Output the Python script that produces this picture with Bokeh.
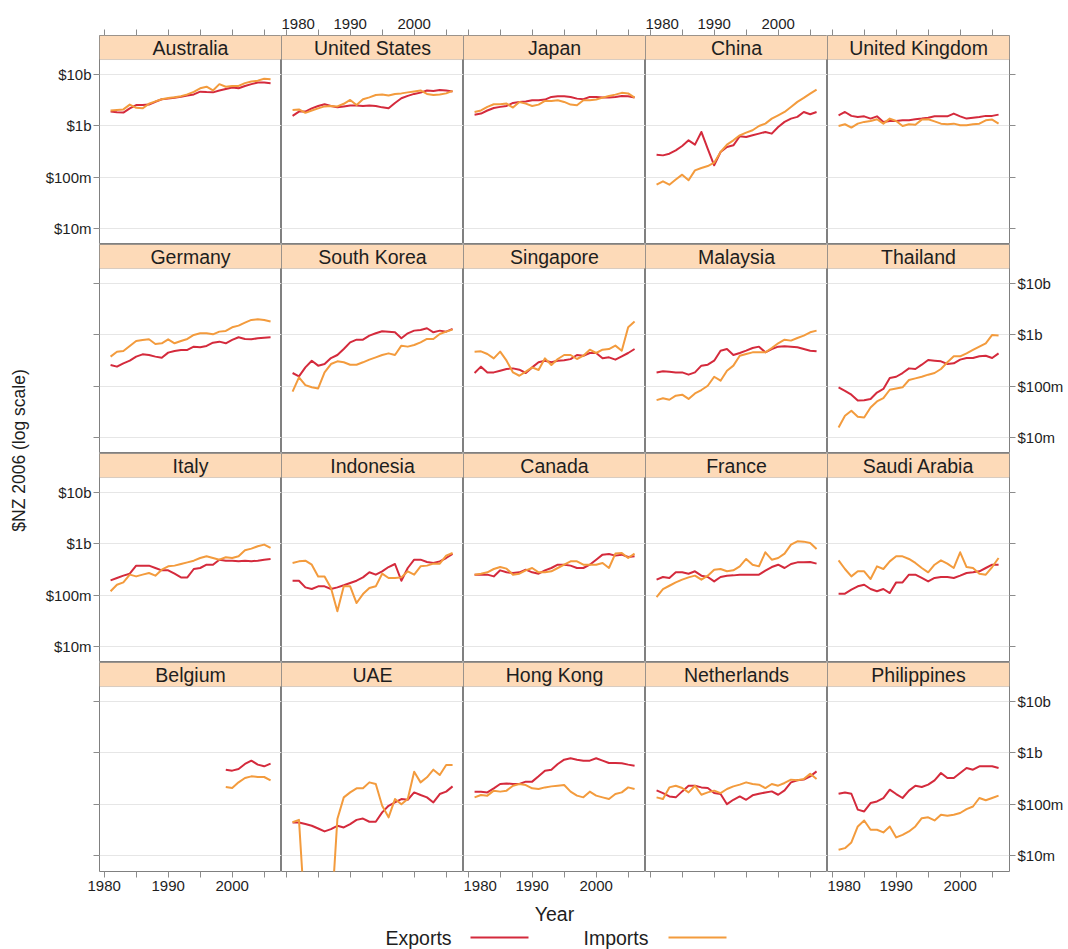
import math
import numpy as np
from bokeh.plotting import figure
from bokeh.layouts import row, column, gridplot
from bokeh.models import (Range1d, FixedTicker, LinearAxis, LogAxis, Grid,
                          BoxAnnotation, Label, CustomJSTickFormatter, ColumnDataSource)
from bokeh.core.properties import value
from bokeh.embed import file_html
from bokeh.resources import INLINE

NA = float("nan")

YEARS = [1981, 1982, 1983, 1984, 1985, 1986, 1987, 1988, 1989, 1990, 1991, 1992, 1993,
         1994, 1995, 1996, 1997, 1998, 1999, 2000, 2001, 2002, 2003, 2004, 2005, 2006]

COUNTRIES = ["Australia", "United States", "Japan", "China", "United Kingdom",
             "Germany", "South Korea", "Singapore", "Malaysia", "Thailand",
             "Italy", "Indonesia", "Canada", "France", "Saudi Arabia",
             "Belgium", "UAE", "Hong Kong", "Netherlands", "Philippines"]

# Values in $NZ millions (2006 dollars)
AUSTRALIA_EXP = [1900, 1850, 1820, 2200, 2550, 2550, 2600, 2950, 3300, 3400, 3550, 3700, 3900, 4100, 4650, 4550, 4500, 4900, 5250, 5600, 5400, 6000, 6500, 7000, 7000, 6800]
AUSTRALIA_IMP = [2000, 2050, 2100, 2600, 2250, 2200, 2700, 3000, 3300, 3500, 3600, 3800, 4100, 4600, 5400, 5800, 4900, 6500, 5800, 6000, 6000, 6800, 7300, 7600, 8300, 8100]
USA_EXP = [1570, 1900, 1900, 2200, 2450, 2650, 2450, 2300, 2400, 2500, 2500, 2450, 2500, 2450, 2300, 2200, 2800, 3450, 3850, 4200, 4450, 4900, 4800, 5000, 4900, 4700]
USA_IMP = [2050, 2100, 1800, 2000, 2200, 2400, 2450, 2400, 2700, 3200, 2550, 3300, 3600, 4000, 4100, 3900, 4200, 4300, 4500, 4700, 4900, 4200, 4000, 4100, 4300, 4800]
JAPAN_EXP = [1660, 1740, 2000, 2240, 2350, 2450, 2800, 2930, 3000, 3160, 3160, 3260, 3670, 3780, 3780, 3670, 3400, 3300, 3670, 3670, 3560, 3560, 3670, 3840, 3780, 3560]
JAPAN_IMP = [1870, 2000, 2350, 2640, 2640, 2720, 2280, 2930, 2720, 2450, 2600, 3070, 3070, 3160, 2930, 2600, 2530, 3160, 3160, 3260, 3560, 3840, 4070, 4400, 4300, 3560]
CHINA_EXP = [277, 268, 289, 336, 407, 526, 433, 764, 360, 172, 312, 390, 420, 630, 611, 658, 709, 764, 709, 957, 1200, 1390, 1500, 1870, 1690, 1870]
CHINA_IMP = [72, 84, 72, 91, 113, 88, 137, 152, 166, 193, 312, 433, 526, 658, 741, 824, 1000, 1110, 1390, 1610, 1870, 2340, 2940, 3510, 4260, 5100]
UK_EXP = [1610, 1870, 1570, 1500, 1540, 1390, 1540, 1200, 1250, 1250, 1290, 1290, 1350, 1390, 1450, 1540, 1540, 1540, 1740, 1540, 1390, 1450, 1500, 1570, 1570, 1660]
UK_IMP = [1000, 1080, 930, 1110, 1200, 1250, 1350, 1110, 1390, 1250, 1000, 1080, 1060, 1330, 1350, 1230, 1110, 1080, 1110, 1030, 1030, 1080, 1110, 1290, 1330, 1110]
GERMANY_EXP = [261, 242, 281, 316, 379, 420, 408, 379, 361, 453, 488, 511, 511, 593, 575, 611, 709, 741, 689, 800, 902, 836, 824, 861, 887, 902]
GERMANY_IMP = [379, 473, 488, 611, 764, 800, 824, 668, 689, 824, 689, 764, 836, 1000, 1077, 1077, 1030, 1161, 1196, 1410, 1520, 1740, 1960, 2020, 1960, 1820]
KOREA_EXP = [182, 157, 234, 316, 253, 272, 356, 408, 533, 719, 811, 811, 971, 1077, 1178, 1160, 1127, 861, 1077, 1214, 1250, 1349, 1127, 1214, 1160, 1309]
KOREA_IMP = [79, 150, 106, 96, 91, 187, 272, 307, 294, 264, 264, 294, 331, 367, 408, 439, 408, 620, 593, 638, 719, 836, 836, 1045, 1161, 1270]
SINGAPORE_EXP = [182, 242, 187, 187, 202, 218, 224, 211, 182, 234, 294, 316, 294, 316, 323, 339, 408, 395, 446, 446, 351, 367, 331, 384, 446, 533]
SINGAPORE_IMP = [473, 481, 427, 351, 473, 316, 187, 161, 193, 234, 208, 351, 261, 341, 408, 408, 341, 395, 518, 446, 518, 533, 620, 495, 1410, 1820]
MALAYSIA_EXP = [187, 196, 192, 187, 187, 169, 187, 253, 264, 316, 495, 533, 408, 446, 495, 558, 593, 459, 533, 593, 601, 593, 575, 533, 495, 481]
MALAYSIA_IMP = [54, 59, 55, 66, 69, 57, 73, 85, 103, 154, 129, 202, 253, 395, 427, 459, 459, 459, 558, 689, 811, 776, 874, 970, 1127, 1214]
THAILAND_EXP = [96, 82, 69, 53, 54, 57, 76, 89, 145, 154, 182, 224, 218, 264, 326, 316, 307, 272, 281, 331, 356, 356, 384, 395, 356, 439]
THAILAND_IMP = [15.9, 26.9, 33.6, 25.6, 24.9, 39, 51, 59, 86, 91, 96, 133, 143, 154, 169, 182, 218, 294, 384, 384, 439, 511, 593, 689, 1000, 971]
ITALY_EXP = [196, 218, 242, 264, 379, 379, 379, 341, 307, 307, 264, 224, 224, 326, 341, 395, 395, 495, 473, 473, 459, 473, 459, 473, 495, 511]
ITALY_IMP = [120, 161, 179, 253, 234, 253, 272, 242, 316, 367, 379, 408, 439, 473, 533, 575, 533, 495, 550, 533, 575, 754, 811, 901, 971, 836]
INDONESIA_EXP = [193, 193, 143, 133, 150, 150, 133, 143, 157, 174, 193, 224, 281, 253, 294, 356, 408, 193, 341, 495, 495, 446, 427, 459, 533, 638]
INDONESIA_IMP = [427, 459, 473, 395, 234, 234, 139, 49, 150, 150, 71, 106, 139, 150, 264, 218, 218, 224, 294, 253, 367, 379, 414, 414, 593, 668]
CANADA_EXP = [253, 253, 253, 234, 307, 281, 272, 281, 316, 281, 264, 307, 341, 395, 395, 379, 341, 341, 395, 495, 620, 638, 593, 620, 558, 575]
CANADA_IMP = [253, 264, 281, 326, 356, 331, 253, 264, 307, 341, 281, 281, 294, 341, 395, 459, 459, 395, 395, 395, 427, 341, 649, 668, 533, 649]
FRANCE_EXP = [202, 228, 218, 281, 281, 264, 294, 242, 228, 187, 228, 242, 245, 253, 253, 253, 253, 303, 356, 395, 341, 408, 439, 439, 446, 414]
FRANCE_IMP = [93, 133, 154, 179, 202, 224, 242, 202, 242, 316, 326, 294, 307, 367, 511, 395, 367, 689, 495, 533, 649, 971, 1127, 1110, 1045, 800]
SAUDI_EXP = [108, 108, 129, 150, 161, 133, 120, 133, 111, 179, 179, 253, 253, 218, 187, 218, 228, 228, 218, 242, 272, 281, 294, 341, 395, 395]
SAUDI_IMP = [481, 326, 234, 294, 294, 208, 367, 326, 459, 575, 575, 511, 427, 341, 281, 395, 481, 414, 341, 689, 356, 341, 264, 253, 356, 533]
BELGIUM_EXP = [NA, NA, NA, NA, NA, NA, NA, NA, NA, NA, NA, NA, NA, NA, NA, NA, NA, NA, 473, 453, 488, 611, 709, 593, 550, 620]
BELGIUM_IMP = [NA, NA, NA, NA, NA, NA, NA, NA, NA, NA, NA, NA, NA, NA, NA, NA, NA, NA, 218, 208, 268, 326, 351, 341, 341, 294]
UAE_EXP = [44.6, 44.6, 41.4, 38.4, 34, 29.8, 33, 38.4, 35.6, 41.4, 50, 53, 46, 46, 70, 94, 109, 127, 123, 171, 152, 137, 109, 159, 177, 224]
UAE_IMP = [45, 50, 0.5, 0.5, 0.5, 0.5, 0.5, 52, 137, 171, 205, 205, 268, 249, 94, 56, 127, 101, 127, 433, 268, 336, 473, 372, 584, 584]
HONGKONG_EXP = [177, 177, 171, 205, 249, 256, 249, 249, 277, 277, 351, 453, 473, 611, 741, 787, 741, 709, 709, 787, 709, 638, 638, 629, 593, 566]
HONGKONG_IMP = [137, 152, 148, 185, 177, 185, 231, 249, 238, 205, 199, 214, 224, 231, 238, 177, 148, 137, 177, 148, 137, 127, 159, 171, 214, 199]
NETHERLANDS_EXP = [187, 166, 143, 137, 179, 231, 231, 214, 208, 166, 159, 101, 123, 143, 123, 150, 161, 171, 179, 154, 187, 268, 294, 303, 351, 439]
NETHERLANDS_IMP = [137, 127, 214, 231, 208, 171, 231, 154, 171, 185, 166, 199, 224, 242, 268, 249, 242, 208, 249, 231, 261, 303, 294, 312, 395, 312]
PHILIPPINES_EXP = [161, 171, 161, 79, 73, 106, 114, 133, 193, 159, 133, 185, 231, 218, 242, 294, 408, 326, 326, 408, 511, 473, 550, 550, 550, 511]
PHILIPPINES_IMP = [13.1, 14.1, 18.2, 37.2, 48.7, 32.1, 32.1, 28.5, 37.2, 22.8, 25.6, 29.8, 37.2, 54, 56, 48.7, 63, 60, 63, 68, 81, 91, 133, 120, 133, 148]

EXPORTS = [AUSTRALIA_EXP, USA_EXP, JAPAN_EXP, CHINA_EXP, UK_EXP,
           GERMANY_EXP, KOREA_EXP, SINGAPORE_EXP, MALAYSIA_EXP, THAILAND_EXP,
           ITALY_EXP, INDONESIA_EXP, CANADA_EXP, FRANCE_EXP, SAUDI_EXP,
           BELGIUM_EXP, UAE_EXP, HONGKONG_EXP, NETHERLANDS_EXP, PHILIPPINES_EXP]
IMPORTS = [AUSTRALIA_IMP, USA_IMP, JAPAN_IMP, CHINA_IMP, UK_IMP,
           GERMANY_IMP, KOREA_IMP, SINGAPORE_IMP, MALAYSIA_IMP, THAILAND_IMP,
           ITALY_IMP, INDONESIA_IMP, CANADA_IMP, FRANCE_IMP, SAUDI_IMP,
           BELGIUM_IMP, UAE_IMP, HONGKONG_IMP, NETHERLANDS_IMP, PHILIPPINES_IMP]

Y_TICKS = [10, 100, 1000, 10000]
Y_TICK_LABELS = ["$10m", "$100m", "$1b", "$10b"]
X_TICKS = [1980, 1990, 2000]
X_MINOR_TICKS = [1985, 1995, 2005]
SERIES_NAMES = ["Exports", "Imports"]

# ---- style / layout ----
FONT = "Liberation Sans"
EXP_COLOR = "#D42A3C"
IMP_COLOR = "#F39B3D"
STRIP_FILL = "#FDDAB8"
BORDER = "#808080"
GRID_COLOR = "#E6E6E6"
TICK_COLOR = "#8C8C8C"
TEXT_COLOR = "#1E1E1E"

FW, FH = 182, 209
L0, R4, T0, B3 = 67, 56, 35, 28
YLAB_W = 32
X0 = 1979.27
X1 = X0 + FW / 6.4
Y0 = 10 ** 0.695
Y1 = 10 ** 4.759
STRIP_BOTTOM = 10 ** 4.292
STRIP_MID = 10 ** ((4.292 + 4.759) / 2)
XMID = (X0 + X1) / 2


def style_axis(ax, show_labels, minor):
    ax.axis_line_color = None
    ax.major_tick_line_color = TICK_COLOR
    ax.major_tick_out = 6
    ax.major_tick_in = 0
    ax.minor_tick_out = 6
    ax.minor_tick_in = 0
    ax.minor_tick_line_color = TICK_COLOR if minor else None
    ax.major_label_text_font = FONT
    ax.major_label_text_font_size = "15px"
    ax.major_label_text_color = TEXT_COLOR if show_labels else None
    ax.major_label_standoff = 2


def y_formatter():
    return CustomJSTickFormatter(args=dict(vals=Y_TICKS, labs=Y_TICK_LABELS), code="""
        for (let i = 0; i < vals.length; i++) {
            if (Math.abs(vals[i] - tick) < 1e-6 * vals[i]) { return labs[i]; }
        }
        return '';
    """)


def make_panel(idx):
    r, c = divmod(idx, 5)
    p = figure(frame_width=FW, frame_height=FH,
               x_range=Range1d(X0, X1), y_range=Range1d(Y0, Y1),
               y_axis_type="log", x_axis_location=None, y_axis_location=None,
               toolbar_location=None, output_backend="svg",
               min_border_left=L0 if c == 0 else 0,
               min_border_right=R4 if c == 4 else 0,
               min_border_top=T0 if r == 0 else 0,
               min_border_bottom=B3 if r == 3 else 0,
               outline_line_color=BORDER, outline_line_width=1,
               background_fill_color="white", border_fill_color="white")
    p.xgrid.visible = False
    p.ygrid.visible = False
    p.add_layout(Grid(dimension=1, ticker=FixedTicker(ticks=Y_TICKS),
                      grid_line_color=GRID_COLOR, grid_line_width=1))

    src = ColumnDataSource(dict(year=np.array(YEARS, dtype=float),
                                exp=np.array(EXPORTS[idx], dtype=float),
                                imp=np.array(IMPORTS[idx], dtype=float)))
    p.line("year", "exp", source=src, line_color=EXP_COLOR, line_width=2, line_join="round")
    p.line("year", "imp", source=src, line_color=IMP_COLOR, line_width=2, line_join="round")

    # strip
    p.add_layout(BoxAnnotation(bottom=STRIP_BOTTOM, fill_color=STRIP_FILL, fill_alpha=1.0,
                               line_color=BORDER, line_width=1, level="annotation"))
    p.add_layout(Label(x=XMID, y=STRIP_MID, text=COUNTRIES[idx], text_align="center",
                       text_baseline="middle", text_font=FONT, text_font_size="19.5px",
                       text_color=TEXT_COLOR))

    if r == 0:
        ax = LinearAxis(ticker=FixedTicker(ticks=X_TICKS, minor_ticks=X_MINOR_TICKS))
        style_axis(ax, c in (1, 3), True)
        ax.major_label_standoff = 1
        p.add_layout(ax, "above")
    if r == 3:
        ax = LinearAxis(ticker=FixedTicker(ticks=X_TICKS, minor_ticks=X_MINOR_TICKS))
        style_axis(ax, c in (0, 2, 4), True)
        ax.major_label_standoff = 3
        p.add_layout(ax, "below")
    if c == 0:
        ax = LogAxis(ticker=FixedTicker(ticks=Y_TICKS), formatter=y_formatter())
        style_axis(ax, r in (0, 2), False)
        p.add_layout(ax, "left")
    if c == 4:
        ax = LogAxis(ticker=FixedTicker(ticks=Y_TICKS), formatter=y_formatter())
        style_axis(ax, r in (1, 3), False)
        p.add_layout(ax, "right")
    return p


panels = [make_panel(i) for i in range(20)]
grid = gridplot([panels[0:5], panels[5:10], panels[10:15], panels[15:20]],
                toolbar_location=None)

GRID_W = L0 + 5 * FW + R4
GRID_H = T0 + 4 * FH + B3


def blank_fig(w, h):
    f = figure(frame_width=w, frame_height=h, x_range=Range1d(0, w), y_range=Range1d(0, h),
               x_axis_location=None, y_axis_location=None, toolbar_location=None,
               output_backend="svg", min_border_left=0, min_border_right=0,
               min_border_top=0, min_border_bottom=0, outline_line_color=None,
               background_fill_color="white", border_fill_color="white")
    f.xgrid.visible = False
    f.ygrid.visible = False
    return f


# y-axis title
ylab = blank_fig(YLAB_W, GRID_H)
ylab.text(x=[18], y=[GRID_H - 450], text=["$NZ 2006 (log scale)"], angle=math.pi / 2,
          text_align="center", text_baseline="middle", text_font=value(FONT),
          text_font_size="17.5px", text_color=TEXT_COLOR)

# footer: x title and key
FOOT_H = 50
foot = blank_fig(GRID_W, FOOT_H)
foot.text(x=[522], y=[FOOT_H - 14], text=["Year"], text_align="center",
          text_baseline="middle", text_font=value(FONT), text_font_size="19.5px",
          text_color=TEXT_COLOR)
LEG_Y = 12
foot.text(x=[353, 551], y=[LEG_Y, LEG_Y], text=SERIES_NAMES, text_align="left",
          text_baseline="middle", text_font=value(FONT), text_font_size="19.5px",
          text_color=TEXT_COLOR)
foot.segment(x0=[438], y0=[LEG_Y], x1=[496], y1=[LEG_Y], line_color=EXP_COLOR, line_width=2)
foot.segment(x0=[636], y0=[LEG_Y], x1=[694], y1=[LEG_Y], line_color=IMP_COLOR, line_width=2)

layout = row(ylab, column(grid, foot))

open("out.html", "w").write(file_html(layout, INLINE))
